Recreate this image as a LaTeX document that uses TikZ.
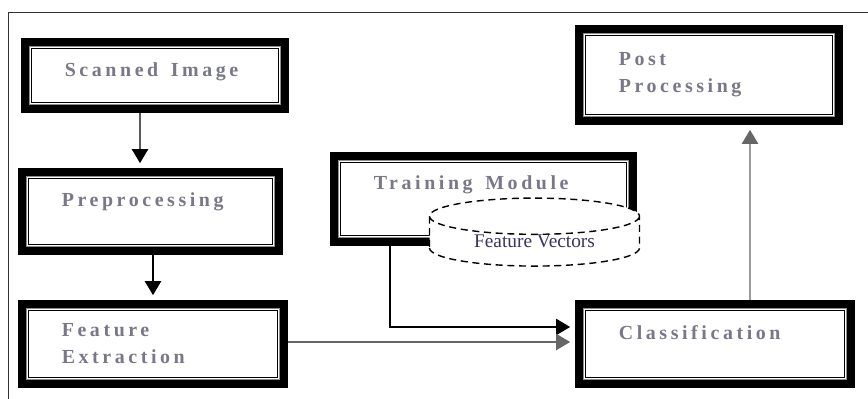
\documentclass[tikz,border=0pt]{standalone}
\usepackage{fontspec}
\setmainfont{Liberation Serif}
\newfontfamily\boxfont[LetterSpace=18]{Liberation Serif}
\usetikzlibrary{shapes.geometric,arrows.meta}
\definecolor{labelgray}{RGB}{120,120,136}
\definecolor{vecblue}{RGB}{60,50,100}

\begin{document}
\begin{tikzpicture}[x=0.03cm,y=-0.03cm]
      \useasboundingbox (0,0) rectangle (868,399);
      \draw[line width=0.8pt,black!80] (8,410) |- (880,12);

      \begin{scope}[every node/.style={rectangle,draw,line width=8pt,fill=white,
          inner xsep=1.18cm,align=left,text=labelgray,
          font=\boxfont\bfseries\fontsize{17}{23}\selectfont}]
        \node (scan)  at (155,75.5)  [minimum width=7.77cm,minimum height=1.98cm,text width=5.41cm,text height=10pt,text depth=9pt] {Scanned\hspace{0.3em} Image};
        \node (pre)   at (150.5,211.5) [minimum width=7.68cm,minimum height=2.34cm,text width=5.32cm,text height=10pt,text depth=19pt] {Preprocessing};
        \node (feat)  at (153,344)   [minimum width=7.83cm,minimum height=2.37cm,text width=5.47cm] {Feature\\Extraction};
        \node (train) at (483.5,199) [minimum width=8.94cm,minimum height=2.55cm,text width=6.58cm,text height=10pt,text depth=26pt] {Training\hspace{0.3em} Module};
        \node (cls)   at (715,344)   [minimum width=8.13cm,minimum height=2.37cm,text width=5.77cm,text height=10pt,text depth=18pt] {Classification};
        \node (post)  at (709,75)    [minimum width=7.77cm,minimum height=2.73cm,text width=5.41cm] {Post\\Processing};
      \end{scope}

      \foreach \n in {scan,pre,feat,train,cls,post} {
        \draw[black!45,line width=0.7pt] ([shift={(0.26cm,-0.26cm)}]\n.north west) rectangle ([shift={(-0.26cm,0.26cm)}]\n.south east);
        \draw[line width=1pt] ([shift={(0.31cm,-0.31cm)}]\n.north west) rectangle ([shift={(-0.31cm,0.31cm)}]\n.south east);
      }

      \node (vec) at (534.5,241.5) [cylinder,shape border rotate=90,draw,
        dash pattern=on 6pt off 4pt,line width=1.2pt,fill=white,
        minimum width=6.3cm,minimum height=1.75cm,aspect=0.3,inner sep=0pt,
        font=\fontsize{16.5}{18}\selectfont,text=vecblue] {Feature Vectors};

      \begin{scope}[line width=1.2pt,>={Triangle[width=14pt,length=12pt]}]
        \draw[->,shorten >=4pt] ([xshift=-0.45cm]scan.south) -- ([xshift=-0.315cm]pre.north);
        \draw[->,shorten >=4pt] (pre.south -| feat.north) -- (feat.north);
        \draw[->,shorten >=4pt] ([xshift=-2.8cm]train.south) |- ([yshift=0.51cm]cls.west);
        \draw[->,shorten >=4pt,black!60] ([yshift=0.06cm]feat.east) -- ([yshift=0.06cm]cls.west);
        \draw[->,shorten >=4pt,black!60] ([xshift=1.05cm]cls.north) -- ([xshift=1.23cm]post.south);
      \end{scope}

    \end{tikzpicture}
\end{document}
